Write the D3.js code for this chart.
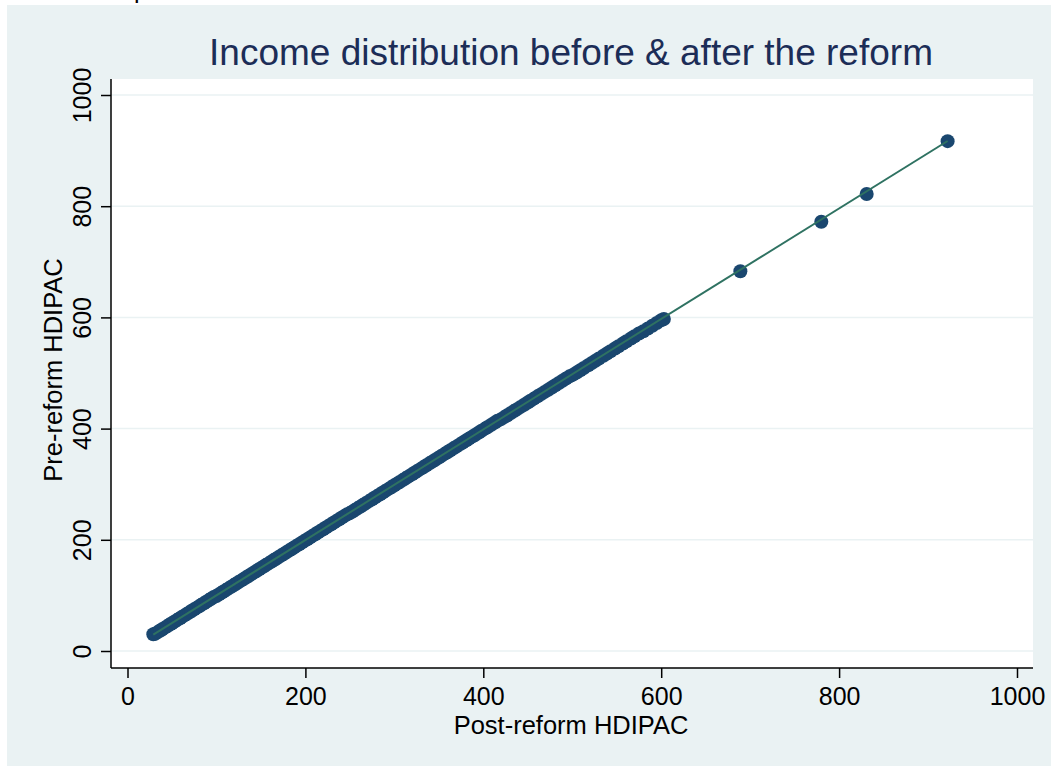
<!DOCTYPE html>
<html>
<head>
<meta charset="utf-8">
<script src="https://cdn.jsdelivr.net/npm/d3@7"></script>
<style>
  body { margin: 0; background: #fff; }
  text { font-family: "Liberation Sans", Arial, sans-serif; }
</style>
</head>
<body>
<div id="chart"></div>
<script>
// post-reform / pre-reform household disposable income per adult equivalent
const postIncome = [29, 31, 34, 37, 39, 42, 45, 48, 50, 53, 56, 59, 61, 64, 67, 70, 72, 75, 78, 81, 83, 86, 89, 92, 94, 97,
    100, 103, 106, 108, 111, 114, 117, 120, 122, 125, 128, 131, 134, 136, 139, 142, 145, 148, 150, 153,
    156, 159, 162, 165, 167, 170, 173, 176, 179, 182, 185, 187, 190, 193, 196, 199,
    202, 205, 208, 211, 214, 217, 220, 223, 226, 229, 232, 235, 238, 241, 244, 247,
    250, 253, 256, 259, 262, 265, 268, 272, 275, 278, 281, 284, 287, 290, 294, 297, 300, 303, 306, 310,
    313, 316, 320, 323, 326, 330, 333, 336, 340, 343, 346, 350, 353, 357, 360, 363, 367, 370, 374, 377,
    381, 384, 388, 391, 395, 398, 402, 405, 409, 413, 416,
    420, 424, 427, 431, 435, 438, 442, 446, 450, 453, 457, 461, 465, 469, 473, 477, 481, 485, 489, 493, 497,
    501, 505, 509, 513, 518, 522, 526, 530, 535, 539, 543, 548, 552, 557, 561, 566, 570, 575,
    580, 585, 590, 595, 600, 603,
    689, 780, 831, 922];
const preIncome = [30, 31, 34, 37, 39, 42, 45, 48, 50, 53, 56, 59, 61, 64, 67, 70, 72, 75, 78, 81, 83, 86, 89, 92, 94, 97,
    99, 102, 105, 107, 110, 113, 116, 119, 121, 124, 127, 130, 133, 135, 138, 141, 144, 147, 149, 152,
    155, 158, 161, 164, 166, 169, 172, 175, 178, 181, 184, 186, 189, 192, 195, 198,
    201, 204, 207, 210, 213, 216, 219, 222, 225, 228, 231, 234, 237, 240, 243, 246,
    248, 251, 254, 257, 260, 263, 266, 270, 273, 276, 279, 282, 285, 288, 292, 295, 298, 301, 304, 308,
    311, 314, 318, 321, 324, 328, 331, 334, 338, 341, 344, 348, 351, 355, 358, 361, 365, 368, 372, 375,
    379, 382, 386, 389, 393, 396, 400, 403, 407, 411, 414,
    417, 421, 424, 428, 432, 435, 439, 443, 447, 450, 454, 458, 462, 466, 470, 474, 478, 482, 486, 490, 494,
    497, 501, 505, 509, 514, 518, 522, 526, 531, 535, 539, 544, 548, 553, 557, 562, 566, 571,
    575, 580, 585, 590, 595, 597,
    683, 772, 822, 917];

// fitted line end points
const fitX = [29, 922];
const fitY = [29.6, 917.3];

const xTicks = [0, 200, 400, 600, 800, 1000];
const yTicks = [0, 200, 400, 600, 800, 1000];

const chartTitle = "Income distribution before & after the reform";
const xTitle = "Post-reform HDIPAC";
const yTitle = "Pre-reform HDIPAC";

const W = 1051, H = 766;
const plot = {left: 111, right: 1033, top: 79, bottom: 668};

const svg = d3.select("#chart").append("svg")
    .attr("width", W)
    .attr("height", H);

// graph region
svg.append("rect")
    .attr("x", 7).attr("y", 5)
    .attr("width", W - 7).attr("height", H - 5)
    .attr("fill", "#eaf2f3");

// clipped text at the very top (cut off in the original too)
svg.append("text")
    .attr("x", 134).attr("y", -2)
    .attr("font-size", 25)
    .attr("fill", "#000")
    .text("p");

// plot region
svg.append("rect")
    .attr("x", plot.left).attr("y", plot.top)
    .attr("width", plot.right - plot.left)
    .attr("height", plot.bottom - plot.top)
    .attr("fill", "#fff");

const x = d3.scaleLinear().domain([0, 1000]).range([127.5, 1017]);
const y = d3.scaleLinear().domain([0, 1000]).range([651, 95]);

/* gridlines */
svg.append("g").selectAll("line")
    .data(yTicks)
    .enter().append("line")
    .attr("x1", plot.left).attr("x2", plot.right)
    .attr("y1", d => y(d)).attr("y2", d => y(d))
    .attr("stroke", "#eaf2f3")
    .attr("stroke-width", 1.5);

/* axes */
const xAxis = svg.append("g")
    .attr("transform", "translate(0," + plot.bottom + ")")
    .call(d3.axisBottom(x).tickValues(xTicks).tickFormat(d3.format("d"))
        .tickSize(10).tickSizeOuter(0).tickPadding(9));
xAxis.select(".domain").remove();
xAxis.append("line")
    .attr("x1", plot.left).attr("x2", plot.right)
    .attr("stroke", "#000").attr("stroke-width", 1.5);
xAxis.selectAll(".tick line").attr("stroke", "#000").attr("stroke-width", 1.5);
xAxis.selectAll(".tick text")
    .attr("font-size", 25)
    .attr("font-family", "Liberation Sans, Arial, sans-serif")
    .attr("fill", "#000");

const yAxis = svg.append("g")
    .attr("transform", "translate(" + plot.left + ",0)")
    .call(d3.axisLeft(y).tickValues(yTicks).tickFormat(d3.format("d"))
        .tickSize(10).tickSizeOuter(0));
yAxis.select(".domain").remove();
yAxis.append("line")
    .attr("y1", plot.top).attr("y2", plot.bottom)
    .attr("stroke", "#000").attr("stroke-width", 1.5);
yAxis.selectAll(".tick line").attr("stroke", "#000").attr("stroke-width", 1.5);
yAxis.selectAll(".tick text")
    .attr("x", 0).attr("y", 0).attr("dy", null)
    .attr("transform", "translate(-20,0) rotate(-90)")
    .attr("text-anchor", "middle")
    .attr("font-size", 25)
    .attr("font-family", "Liberation Sans, Arial, sans-serif")
    .attr("fill", "#000");

/* markers */
const pts = postIncome.map((d, i) => ({post: d, pre: preIncome[i]}));
svg.append("g").selectAll("circle")
    .data(pts)
    .enter().append("circle")
    .attr("cx", d => x(d.post))
    .attr("cy", d => y(d.pre))
    .attr("r", 7)
    .attr("fill", "#1a476f");

/* fitted line */
svg.append("path")
    .datum(fitX.map((d, i) => [d, fitY[i]]))
    .attr("d", d3.line().x(d => x(d[0])).y(d => y(d[1])))
    .attr("fill", "none")
    .attr("stroke", "#2f7262")
    .attr("stroke-width", 2);

/* titles */
svg.append("text")
    .attr("x", 571).attr("y", 65)
    .attr("text-anchor", "middle")
    .attr("font-size", 37)
    .attr("fill", "#1c2d57")
    .text(chartTitle);

svg.append("text")
    .attr("x", 571).attr("y", 734)
    .attr("text-anchor", "middle")
    .attr("font-size", 25.5)
    .attr("fill", "#000")
    .text(xTitle);

svg.append("text")
    .attr("transform", "translate(62,370) rotate(-90)")
    .attr("text-anchor", "middle")
    .attr("font-size", 25.5)
    .attr("fill", "#000")
    .text(yTitle);
</script>
</body>
</html>
